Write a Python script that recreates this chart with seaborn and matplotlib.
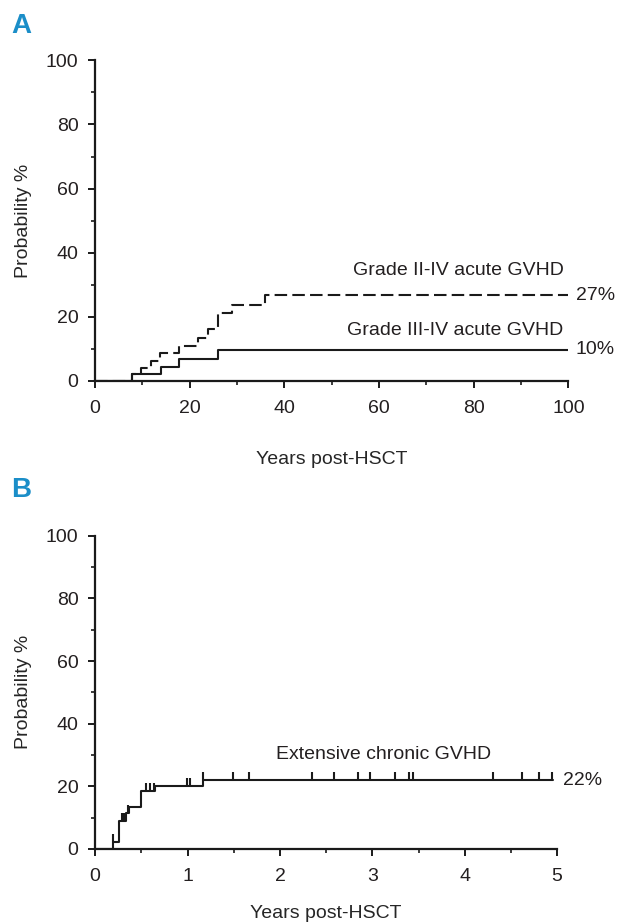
import numpy as np
import pandas as pd
import matplotlib
matplotlib.use("Agg")
import matplotlib.pyplot as plt
from matplotlib.ticker import MultipleLocator
import seaborn as sns

# Panel A - acute GVHD (step curves)
a_time_2_4 = [0, 7.75, 9.7, 11.8, 13.7, 17.8, 21.8, 23.8, 25.9, 28.9, 35.8, 100]
a_prob_2_4 = [0, 2.1, 4.0, 6.2, 8.8, 10.9, 13.3, 16.1, 21.1, 23.7, 26.8, 26.8]
a_time_3_4 = [0, 7.75, 13.9, 17.8, 25.9, 100]
a_prob_3_4 = [0, 2.1, 4.3, 6.9, 9.8, 9.8]

# Panel B - extensive chronic GVHD
b_time = [0, 0.19, 0.26, 0.33, 0.37, 0.50, 0.65, 1.17, 4.96]
b_prob = [0, 2.3, 9.0, 11.5, 13.5, 18.5, 20.0, 22.0, 22.0]
b_censor = [0.19, 0.29, 0.31, 0.36, 0.55, 0.59, 0.64, 0.99, 1.03, 1.17,
            1.49, 1.67, 2.35, 2.59, 2.84, 2.98, 3.25, 3.40, 3.44,
            4.31, 4.62, 4.80, 4.94]

sns.set_theme(style="ticks")
plt.rcParams['font.family'] = ['Liberation Sans Narrow', 'Liberation Sans', 'DejaVu Sans']
plt.rcParams['text.color'] = '#231f20'
plt.rcParams['xtick.color'] = '#231f20'
plt.rcParams['ytick.color'] = '#231f20'

fig = plt.figure(figsize=(6.26, 9.24), dpi=100)
axA = fig.add_axes([0.152, 0.5877, 0.756, 0.347])
axB = fig.add_axes([0.152, 0.0812, 0.738, 0.339])

# ---------------------------
#  A
# ---------------------------
sns.lineplot(x=a_time_3_4, y=a_prob_3_4, ax=axA, color='#1a1a1a', lw=1.5,
             drawstyle='steps-post', estimator=None, sort=False)
sns.lineplot(x=a_time_2_4, y=a_prob_2_4, ax=axA, color='#1a1a1a', lw=1.5,
             drawstyle='steps-post', estimator=None, sort=False,
             linestyle=(0, (6, 2.5)))
axA.set_xlim(0, 100)
axA.set_ylim(0, 100)
axA.xaxis.set_major_locator(MultipleLocator(20))
axA.xaxis.set_minor_locator(MultipleLocator(10))
axA.text(99, 34.6, 'Grade II-IV acute GVHD', ha='right', va='center', fontsize=14)
axA.text(99, 15.6, 'Grade III-IV acute GVHD', ha='right', va='center', fontsize=14)
axA.text(101.5, a_prob_2_4[-1], '27%', ha='left', va='center', fontsize=14, clip_on=False)
axA.text(101.5, a_prob_3_4[-1], '10%', ha='left', va='center', fontsize=14, clip_on=False)
axA.set_xlabel('Years post-HSCT', fontsize=14, labelpad=24)

# ---------------------------
#  B
# ---------------------------
sns.lineplot(x=b_time, y=b_prob, ax=axB, color='#1a1a1a', lw=1.5,
             drawstyle='steps-post', estimator=None, sort=False)
idx = np.searchsorted(b_time, b_censor, side='right') - 1
cens = pd.DataFrame({'t': b_censor, 'p': np.array(b_prob)[idx]})
axB.plot(cens['t'], cens['p'], ls='none', marker=2, ms=5.5, mew=1.5, color='#1a1a1a')
axB.set_xlim(0, 5)
axB.set_ylim(0, 100)
axB.xaxis.set_major_locator(MultipleLocator(1))
axB.xaxis.set_minor_locator(MultipleLocator(0.5))
axB.text(3.12, 30.3, 'Extensive chronic GVHD', ha='center', va='center', fontsize=14)
axB.text(5.06, b_prob[-1], '22%', ha='left', va='center', fontsize=14, clip_on=False)
axB.set_xlabel('Years post-HSCT', fontsize=14, labelpad=14)

for ax in (axA, axB):
    sns.despine(ax=ax)
    ax.spines['left'].set_linewidth(1.6)
    ax.spines['bottom'].set_linewidth(1.6)
    ax.spines['left'].set_color('#1a1a1a')
    ax.spines['bottom'].set_color('#1a1a1a')
    ax.yaxis.set_major_locator(MultipleLocator(20))
    ax.yaxis.set_minor_locator(MultipleLocator(10))
    ax.tick_params(which='major', length=5, width=1.4, labelsize=14, direction='out', color='#1a1a1a')
    ax.tick_params(which='minor', length=3, width=1.2, direction='out', color='#1a1a1a')
    ax.tick_params(axis='x', which='major', pad=9)
    ax.tick_params(axis='y', which='major', pad=7)
    ax.set_ylabel('Probability %', fontsize=14, labelpad=10)

fig.text(0.018, 0.972, 'A', color='#1b8ec8', fontsize=20, fontweight='bold', va='center')
fig.text(0.018, 0.470, 'B', color='#1b8ec8', fontsize=20, fontweight='bold', va='center')

fig.savefig('out.png', dpi=100)
